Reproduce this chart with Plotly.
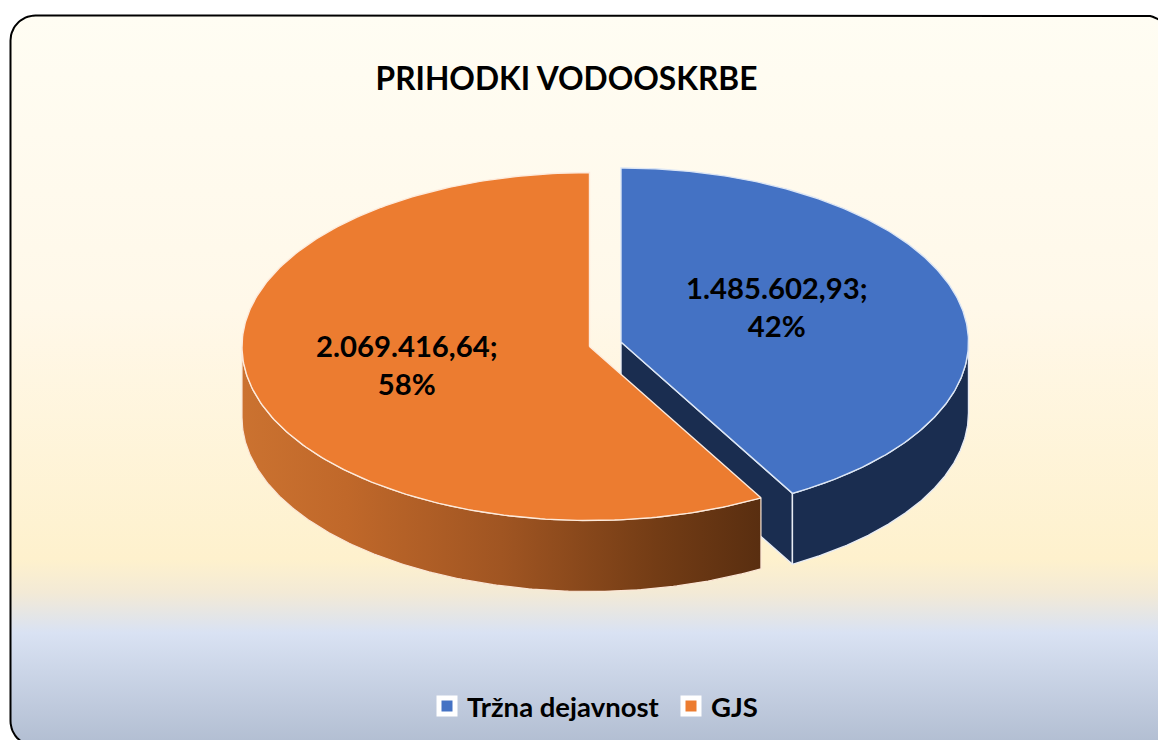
import numpy as np
import plotly.graph_objects as go

# ---- data ----
categories = ["Tržna dejavnost", "GJS"]
values = [1485602.93, 2069416.64]
colors_top = ["#4472C4", "#EC7C30"]
title_text = "PRIHODKI VODOOSKRBE"

# ---- pie geometry (pixel-like data space) ----
W, H = 1158, 740
RX, RY, DEPTH = 347.5, 174.0, 71.0
centers = [(621.0, 342.0), (589.5, 346.5)]
NAVY = "#1A2D50"
FONT = "Lato"

total = sum(values)
fractions = [v / total for v in values]
starts = [0.0, fractions[0]]          # clockwise from 12 o'clock, as share of the circle


def pt(c, a, dz=0.0):
    return c[0] + RX * np.sin(a), c[1] - RY * np.cos(a) + dz


def wedge(c, a0, a1):
    a = np.linspace(a0, a1, 240)
    x, y = pt(c, a)
    return [c[0], *x, c[0]], [c[1], *y, c[1]]


def wall(c, a0, a1):
    a = np.linspace(a0, a1, 200)
    x0, y0 = pt(c, a)
    x1, y1 = pt(c, a[::-1], DEPTH)
    return [*x0, *x1, x0[0]], [*y0, *y1, y0[0]]


def fmt(v):
    return f"{v:,.2f}".replace(",", "#").replace(".", ",").replace("#", ".")


fig = go.Figure()

# background panel with rounded corners
L, T, R, B, r = 10.5, 15.5, 1170.0, 746.0, 25.0
q = np.linspace(0, np.pi / 2, 16)
px = [*(L + r - r * np.cos(q)), *(R - r + r * np.sin(q)), *(R - r + r * np.cos(q)), *(L + r - r * np.sin(q)), L]
py = [*(T + r - r * np.sin(q)), *(T + r - r * np.cos(q)), *(B - r + r * np.sin(q)), *(B - r + r * np.cos(q)), T + r]
fig.add_trace(go.Scatter(
    x=px, y=py, mode="lines", fill="toself", showlegend=False, hoverinfo="skip",
    line=dict(color="#000000", width=2),
    fillgradient=dict(type="vertical", start=T, stop=B, colorscale=[
        [0.0, "#FFFDF3"], [0.40, "#FFF8E9"], [0.745, "#FEF1CD"], [0.79, "#F3EAD6"],
        [0.845, "#D9E2F3"], [1.0, "#B1BDD1"]]),
))

# blue slice: walls then top
cb = centers[0]
a0, a1 = starts[0] * 2 * np.pi, (starts[0] + fractions[0]) * 2 * np.pi
tx, ty = pt(cb, a1)
fig.add_trace(go.Scatter(
    x=[cb[0], tx, tx, cb[0], cb[0]], y=[cb[1], ty, ty + DEPTH, cb[1] + DEPTH, cb[1]],
    mode="lines", fill="toself", fillcolor=NAVY, line=dict(color="#E8ECF4", width=1.4),
    showlegend=False, hoverinfo="skip"))
wx, wy = wall(cb, np.pi / 2, a1)
fig.add_trace(go.Scatter(x=wx, y=wy, mode="lines", fill="toself", fillcolor=NAVY,
                         line=dict(color="#E8ECF4", width=1.4), showlegend=False, hoverinfo="skip"))
x, y = wedge(cb, a0, a1)
fig.add_trace(go.Scatter(x=x, y=y, mode="lines", fill="toself", fillcolor=colors_top[0],
                         line=dict(color="#DCE6F5", width=1.4), showlegend=False, hoverinfo="skip"))

# orange slice: gradient wall then top
co = centers[1]
a0, a1 = starts[1] * 2 * np.pi, (starts[1] + fractions[1]) * 2 * np.pi
wx, wy = wall(co, a0, 1.5 * np.pi)
fig.add_trace(go.Scatter(
    x=wx, y=wy, mode="lines", fill="toself", line=dict(color="#FBE6D6", width=1.2),
    fillgradient=dict(type="horizontal", start=min(wx), stop=max(wx), colorscale=[
        [0.0, "#CB7230"], [0.2, "#C0682A"], [0.5, "#A05522"], [0.8, "#733C15"], [1.0, "#592E10"]]),
    showlegend=False, hoverinfo="skip"))
x, y = wedge(co, a0, a1)
fig.add_trace(go.Scatter(x=x, y=y, mode="lines", fill="toself", fillcolor=colors_top[1],
                         line=dict(color="#FDEBDD", width=1.4), showlegend=False, hoverinfo="skip"))

# legend entries
for name, col in zip(categories, colors_top):
    fig.add_trace(go.Scatter(x=[None], y=[None], mode="markers", name=name,
                             marker=dict(symbol="square", size=16, color=col,
                                         line=dict(color="#FFFFFF", width=5))))

# data labels
label_pos = [(777.0, 306.0), (407.0, 364.0)]
annos = [dict(x=p[0], y=p[1], xref="x", yref="y", showarrow=False,
              text=f"<b>{fmt(v)};<br>{f * 100:.0f}%</b>",
              font=dict(family=FONT, size=29.3, color="#000000"), align="center")
         for p, v, f in zip(label_pos, values, fractions)]

fig.update_layout(
    width=W, height=H, margin=dict(l=0, r=0, t=0, b=0),
    paper_bgcolor="#FFFFFF", plot_bgcolor="rgba(0,0,0,0)",
    xaxis=dict(range=[0, W], visible=False, fixedrange=True),
    yaxis=dict(range=[H, 0], visible=False, fixedrange=True),
    title=dict(text=f"<b>{title_text}</b>", x=566.5 / W, xanchor="center", y=1 - 79 / H, yanchor="middle",
               font=dict(family=FONT, size=31.7, color="#000000")),
    legend=dict(orientation="h", x=427 / W, xanchor="left", y=1 - 706 / H, yanchor="middle",
                bgcolor="rgba(0,0,0,0)", font=dict(family=FONT, size=27.5, color="#000000", weight="bold"),
                itemsizing="trace", entrywidth=199, entrywidthmode="pixels"),
    annotations=annos,
)
fig.write_html("out.html", config={"displayModeBar": False},
               post_script="document.documentElement.style.margin='0';document.body.style.margin='0';document.body.style.overflow='hidden';")
